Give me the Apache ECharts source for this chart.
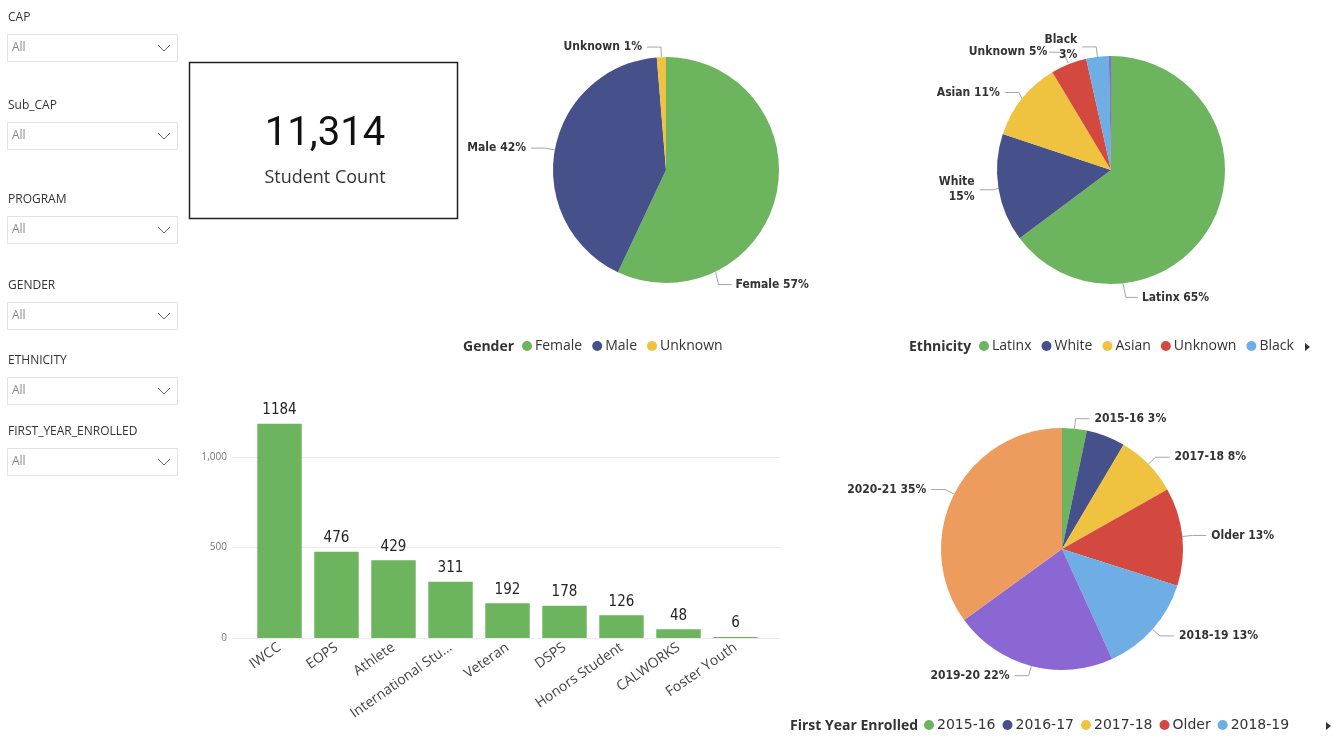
<!DOCTYPE html>
<html>
<head>
<meta charset="utf-8">
<script src="https://cdn.jsdelivr.net/npm/echarts@6/dist/echarts.min.js"></script>
<style>
html,body{margin:0;padding:0;background:#fff;}
#main{width:1334px;height:736px;}
</style>
</head>
<body>
<div id="main"></div>
<script>
// ---------- data ----------
var slicerLabels = ['CAP', 'Sub_CAP', 'PROGRAM', 'GENDER', 'ETHNICITY', 'FIRST_YEAR_ENROLLED'];
var slicerValue = 'All';
var studentCount = '11,314';
var cardLabel = 'Student Count';

var genderNames = ['Female', 'Male', 'Unknown'];
var genderValues = [57.0, 41.7, 1.3];

var ethnicityNames = ['Latinx', 'White', 'Asian', 'Unknown', 'Black', 'Other'];
var ethnicityValues = [64.8, 15.3, 11.3, 5.1, 3.2, 0.3];

var yearNames = ['2015-16', '2016-17', '2017-18', 'Older', '2018-19', '2019-20', '2020-21'];
var yearValues = [3.3, 5.2, 8.3, 13.1, 13.3, 21.8, 35.0];

var programNames = ['IWCC', 'EOPS', 'Athlete', 'International Student', 'Veteran', 'DSPS', 'Honors Student', 'CALWORKS', 'Foster Youth'];
var programValues = [1184, 476, 429, 311, 192, 178, 126, 48, 6];

var yTicks = [0, 500, 1000];

// ---------- styles ----------
var C = {
  green: '#6cb55e', navy: '#46508a', yellow: '#efc33f', red: '#d4493f',
  lblue: '#6eaee5', purple: '#8a67d2', orange: '#ee9b5e'
};
var genderColors = [C.green, C.navy, C.yellow];
var ethnicityColors = [C.green, C.navy, C.yellow, C.red, C.lblue, C.purple];
var yearColors = [C.green, C.navy, C.yellow, C.red, C.lblue, C.purple, C.orange];

var FONT = '"Open Sans", "Noto Sans", sans-serif';
var LFONT = '"DejaVu Sans Condensed", Roboto, sans-serif';
var DFONT = 'Roboto, "DejaVu Sans", sans-serif';

function pieData(names, values, colors, hideLabels, wrapNames) {
  return names.map(function (n, i) {
    var d = { name: n, value: values[i], itemStyle: { color: colors[i] } };
    if (hideLabels && hideLabels.indexOf(n) >= 0) {
      d.label = { show: false }; d.labelLine = { show: false };
    }
    if (wrapNames && wrapNames.indexOf(n) >= 0) {
      d.label = { formatter: function (p) { return p.name + '\n' + Math.round(p.percent) + '%'; }, align: 'center' };
    }
    return d;
  });
}

// point on the rim of a slice at its mid angle (pie starts at top, clockwise)
function sliceRim(values, idx, cx, cy, r) {
  var total = values.reduce(function (a, b) { return a + b; }, 0);
  var before = 0;
  for (var i = 0; i < idx; i++) before += values[i];
  var frac = (before + values[idx] / 2) / total;
  var ang = frac * 2 * Math.PI;
  return [cx + r * Math.sin(ang), cy - r * Math.cos(ang)];
}

// Power BI puts the label of the big first slice below the pie: move it there.
function bottomLabel(firstIdx, cx, cy, r, angleDeg, dx, drop, extra) {
  return function (p) {
    if (extra && extra[p.dataIndex]) return extra[p.dataIndex]();
    if (p.dataIndex !== firstIdx) return {};
    var a = angleDeg * Math.PI / 180;
    var sx = cx + r * Math.cos(a), sy = cy + r * Math.sin(a);
    var ey = sy + drop;
    return {
      x: sx + dx + 4, y: ey, align: 'left', verticalAlign: 'middle',
      labelLinePoints: [[sx, sy], [sx + 3, ey], [sx + dx, ey]]
    };
  };
}

function upLeftLabel(values, idx, cx, cy, r) {
  return function () {
    var pt = sliceRim(values, idx, cx, cy, r + 1);
    var ey = pt[1] - 11;
    return {
      x: pt[0] - 21, y: ey, align: 'right', verticalAlign: 'middle',
      labelLinePoints: [[pt[0], pt[1]], [pt[0] - 5, ey], [pt[0] - 19, ey]]
    };
  };
}

function pieSeries(name, center, radius, data, layout) {
  var s = {
    type: 'pie', name: name, center: center, radius: radius,
    startAngle: 90, clockwise: true, avoidLabelOverlap: true,
    data: data,
    label: {
      show: true, position: 'outside',
      formatter: function (p) { return p.name + ' ' + Math.round(p.percent) + '%'; },
      fontFamily: LFONT, fontSize: 12, fontWeight: 'bold', color: '#333', lineHeight: 15
    },
    labelLine: { show: true, length: 10, length2: 14, lineStyle: { color: '#a6a6a6', width: 1 } },
    itemStyle: { borderWidth: 0 },
    emphasis: { disabled: true },
    animation: false
  };
  if (layout) s.labelLayout = layout;
  return s;
}

// ---------- slicer graphics ----------
var slicerTops = [17, 105, 199, 285, 360, 431];
var graphics = [];
slicerLabels.forEach(function (lab, i) {
  var t = slicerTops[i];
  graphics.push({ type: 'text', x: 8, y: t + 1, style: { text: lab, font: '12px ' + FONT, fill: '#333', textVerticalAlign: 'middle' } });
  graphics.push({ type: 'rect', shape: { x: 7.5, y: t + 17.5, width: 170, height: 27 }, style: { fill: '#fff', stroke: '#e3e3e3', lineWidth: 1 } });
  graphics.push({ type: 'text', x: 12, y: t + 31, style: { text: slicerValue, font: '12px ' + FONT, fill: '#8a8a8a', textVerticalAlign: 'middle' } });
  graphics.push({ type: 'polyline', shape: { points: [[158, t + 28], [164, t + 34], [170, t + 28]] }, style: { stroke: '#666', lineWidth: 1, fill: null } });
});
// card
graphics.push({ type: 'rect', shape: { x: 189.5, y: 62.5, width: 268, height: 156 }, style: { fill: '#fff', stroke: '#222', lineWidth: 1.5 } });
graphics.push({ type: 'text', x: 325, y: 135, style: { text: studentCount, font: '40px ' + DFONT, fill: '#111', textAlign: 'center', textVerticalAlign: 'middle' } });
graphics.push({ type: 'text', x: 325, y: 178, style: { text: cardLabel, font: '18px ' + FONT, fill: '#333', textAlign: 'center', textVerticalAlign: 'middle' } });
// legend titles
graphics.push({ type: 'text', x: 463, y: 347, style: { text: 'Gender', font: 'bold 14px ' + FONT, fill: '#333', textVerticalAlign: 'middle' } });
graphics.push({ type: 'text', x: 909, y: 347, style: { text: 'Ethnicity', font: 'bold 14px ' + FONT, fill: '#333', textVerticalAlign: 'middle' } });
graphics.push({ type: 'text', x: 790, y: 726, style: { text: 'First Year Enrolled', font: 'bold 14px ' + FONT, fill: '#333', textVerticalAlign: 'middle' } });
// legend page arrows
graphics.push({ type: 'polygon', shape: { points: [[1305, 343], [1310, 347], [1305, 351]] }, style: { fill: '#333' } });
graphics.push({ type: 'polygon', shape: { points: [[1326, 722], [1331, 726], [1326, 730]] }, style: { fill: '#333' } });

function legendData(names, colors, n) {
  return names.slice(0, n).map(function (nm, i) { return { name: nm, itemStyle: { color: colors[i] } }; });
}

var legendCommon = {
  orient: 'horizontal', icon: 'circle', itemWidth: 10, itemHeight: 10, itemGap: 10,
  textStyle: { fontFamily: FONT, fontSize: 14, color: '#333', padding: [0, 0, 0, -2] },
  selectedMode: false, padding: 0
};

var ethExtra = {};
ethExtra[3] = upLeftLabel(ethnicityValues, 3, 1111, 170, 114);

var option = {
  backgroundColor: '#fff',
  animation: false,
  graphic: graphics,
  legend: [
    Object.assign({}, legendCommon, { left: 522, top: 339, data: legendData(genderNames, genderColors, 3) }),
    Object.assign({}, legendCommon, { left: 979, top: 339, data: legendData(ethnicityNames, ethnicityColors, 5) }),
    Object.assign({}, legendCommon, {
      left: 924, top: 718, itemGap: 7, data: legendData(yearNames, yearColors, 5),
      textStyle: { fontFamily: '"DejaVu Sans", sans-serif', fontSize: 14, color: '#333', padding: [0, 0, 0, -2] }
    })
  ],
  grid: [
    { left: 251, right: 570, top: 457, bottom: 98, containLabel: false },
    { left: 232, right: 554, top: 457, bottom: 98, containLabel: false }
  ],
  xAxis: [
    {
      type: 'category', data: programNames, gridIndex: 0,
      axisLine: { show: false }, axisTick: { show: false },
      axisLabel: {
        interval: 0, rotate: 35, margin: 8, fontFamily: FONT, fontSize: 14, color: '#444',
        width: 125, overflow: 'truncate', ellipsis: '...'
      }
    },
    { type: 'value', gridIndex: 1, min: 0, max: 1, show: false }
  ],
  yAxis: [
    {
      type: 'value', gridIndex: 0, min: 0, max: 1000, interval: 500,
      axisLine: { show: false }, axisTick: { show: false }, axisLabel: { show: false }, splitLine: { show: false }
    },
    {
      type: 'value', gridIndex: 1, min: 0, max: 1000, interval: 500, z: 0,
      axisLine: { show: false }, axisTick: { show: false },
      axisLabel: {
        margin: 5, fontFamily: FONT, fontSize: 10, color: '#777',
        formatter: function (v) { return yTicks.indexOf(v) >= 0 ? v.toLocaleString('en-US') : ''; }
      },
      splitLine: { lineStyle: { color: '#ececec', width: 1 } }
    }
  ],
  series: [
    {
      type: 'bar', data: programValues, xAxisIndex: 0, yAxisIndex: 0, barCategoryGap: '22%', clip: false, z: 3,
      itemStyle: { color: C.green },
      label: { show: true, position: 'top', distance: 6, fontFamily: LFONT, fontSize: 15, color: '#252423' },
      emphasis: { disabled: true }
    },
    pieSeries('Gender', [666, 170], 113, pieData(genderNames, genderValues, genderColors), bottomLabel(0, 666, 170, 113, 64, 16, 13)),
    pieSeries('Ethnicity', [1111, 170], 114, pieData(ethnicityNames, ethnicityValues, ethnicityColors, ['Other'], ['White', 'Black']), bottomLabel(0, 1111, 170, 114, 84, 15, 14, ethExtra)),
    pieSeries('First Year Enrolled', [1062, 549], 121, pieData(yearNames, yearValues, yearColors, ['2016-17']))
  ]
};

var chart = echarts.init(document.getElementById('main'), null, { renderer: 'canvas' });
chart.setOption(option);
</script>
</body>
</html>
